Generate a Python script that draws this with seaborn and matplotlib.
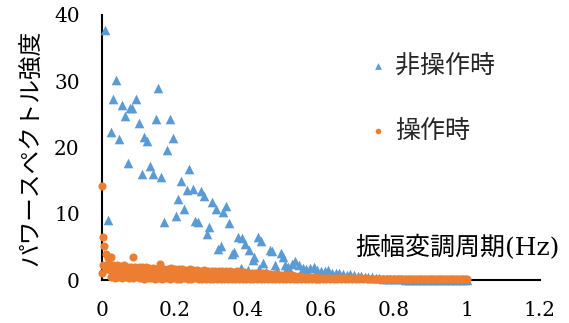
import numpy as np
import pandas as pd
import matplotlib
matplotlib.use("Agg")
import matplotlib.pyplot as plt
import seaborn as sns

# ---------------- data ----------------
series_names = ["非操作時", "操作時"]
x_ticks = [0, 0.2, 0.4, 0.6, 0.8, 1.0, 1.2]
x_tick_labels = ["0", "0.2", "0.4", "0.6", "0.8", "1", "1.2"]
y_ticks = [0, 10, 20, 30, 40]

blue_x_sparse = [0.007, 0.038, 0.154, 0.031, 0.093, 0.054, 0.076, 0.082, 0.062, 0.101,
                 0.148, 0.186, 0.024, 0.047, 0.115, 0.124, 0.195, 0.177, 0.070, 0.131,
                 0.109, 0.139, 0.162, 0.239, 0.216, 0.232, 0.248, 0.271, 0.279, 0.207,
                 0.302, 0.311, 0.339, 0.332, 0.226, 0.202, 0.171, 0.255, 0.262, 0.349,
                 0.294, 0.287, 0.016, 0.372, 0.383, 0.392, 0.427, 0.435, 0.326, 0.319,
                 0.404, 0.362, 0.355, 0.460, 0.467, 0.490, 0.417, 0.415, 0.442, 0.474,
                 0.495, 0.508, 0.380, 0.400, 0.430, 0.450, 0.480]
blue_y_sparse = [37.8, 30.2, 29.0, 27.3, 27.3, 26.4, 25.9, 25.9, 24.8, 23.7,
                 24.3, 24.3, 22.4, 21.3, 21.6, 21.0, 21.4, 19.6, 17.7, 17.2,
                 16.0, 16.0, 15.6, 16.7, 15.0, 13.6, 13.8, 13.5, 12.7, 12.3,
                 11.8, 10.7, 11.1, 10.2, 10.7, 9.6, 8.8, 8.9, 8.8, 8.6,
                 8.0, 6.9, 9.1, 6.5, 6.3, 5.5, 6.5, 5.9, 5.1, 4.7,
                 4.6, 4.3, 4.0, 4.5, 4.4, 4.1, 3.5, 3.0, 2.5, 2.3,
                 3.4, 1.8, 1.8, 1.5, 1.6, 1.2, 1.4]

blue_tail_x = np.round(np.arange(0.50, 1.0001, 0.01), 3)
blue_tail_y = [2.3, 1.9, 2.4, 2.8, 2.3, 1.8, 1.6, 1.8, 2.0, 1.5,
               1.3, 1.4, 1.5, 1.1, 1.0, 1.1, 0.9, 0.8, 0.9, 0.7,
               0.6, 0.6, 0.5, 0.45, 0.4, 0.3, 0.25, 0.2, 0.15, 0.12,
               0.1, 0.08, 0.08, 0.07, 0.07, 0.06, 0.06, 0.06, 0.05, 0.05,
               0.05, 0.05, 0.04, 0.04, 0.04, 0.04, 0.03, 0.03, 0.03, 0.03,
               0.03]

orange_special_x = [0.0, 0.003, 0.005, 0.010, 0.017, 0.025, 0.086, 0.158, 0.002, 0.0]
orange_special_y = [14.2, 6.5, 5.1, 4.0, 3.3, 3.4, 3.5, 2.4, 2.2, 1.0]

orange_hi_x = np.round(np.arange(0.02, 1.0001, 0.01), 3)
orange_hi_y = [2.5, 2.3, 2.2, 2.1, 2.2, 2.0, 2.0, 1.9, 2.0,
               1.9, 1.9, 1.8, 1.8, 1.7, 1.9, 1.7, 1.7, 1.8, 1.6,
               1.6, 1.6, 1.5, 1.6, 1.5, 1.5, 1.4, 1.5, 1.4, 1.4,
               1.4, 1.3, 1.4, 1.3, 1.3, 1.2, 1.3, 1.2, 1.2, 1.1,
               1.1, 1.1, 1.0, 1.0, 1.0, 0.9, 0.9, 0.9, 0.8, 0.8,
               0.7, 0.7, 0.6, 0.6, 0.5, 0.5, 0.45, 0.4, 0.4, 0.35,
               0.35, 0.3, 0.3, 0.3, 0.28, 0.27, 0.26, 0.25, 0.25, 0.24,
               0.23, 0.23, 0.22, 0.22, 0.22, 0.21, 0.21, 0.2, 0.21, 0.2,
               0.2, 0.2, 0.21, 0.2, 0.2, 0.2, 0.19, 0.2, 0.2, 0.19,
               0.2, 0.19, 0.2, 0.19, 0.19, 0.2, 0.19, 0.19, 0.2, 0.19]

orange_mid_x = np.round(np.arange(0.015, 0.5999, 0.01), 3)
orange_mid_y = [1.6, 1.4, 1.3, 1.2, 1.3, 1.1, 1.2, 1.0, 1.1,
                1.0, 1.1, 0.9, 1.0, 0.9, 1.0, 0.9, 0.8, 0.9, 0.8,
                0.9, 0.8, 0.8, 0.8, 0.7, 0.8, 0.7, 0.7, 0.7, 0.7,
                0.7, 0.6, 0.7, 0.6, 0.6, 0.6, 0.6, 0.5, 0.6, 0.5,
                0.5, 0.5, 0.5, 0.5, 0.4, 0.5, 0.4, 0.4, 0.4, 0.4,
                0.35, 0.35, 0.3, 0.3, 0.3, 0.25, 0.25, 0.25, 0.2, 0.2]

orange_lo_x = np.round(np.arange(0.025, 0.9999, 0.01), 3)
orange_lo_y = [0.4, 0.3, 0.5, 0.3, 0.4, 0.3, 0.3, 0.4,
               0.3, 0.2, 0.3, 0.3, 0.2, 0.3, 0.2, 0.3, 0.2, 0.3,
               0.2, 0.2, 0.3, 0.2, 0.2, 0.3, 0.2, 0.2, 0.2, 0.2,
               0.2, 0.15, 0.2, 0.2, 0.15, 0.2, 0.15, 0.2, 0.15, 0.15,
               0.15, 0.2, 0.15, 0.15, 0.15, 0.1, 0.15, 0.1, 0.15, 0.1,
               0.1, 0.1, 0.12, 0.1, 0.1, 0.1, 0.12, 0.1, 0.1, 0.1,
               0.1, 0.1, 0.1, 0.1, 0.12, 0.1, 0.12, 0.1, 0.1, 0.1,
               0.1, 0.12, 0.1, 0.1, 0.11, 0.1, 0.1, 0.12, 0.1, 0.1,
               0.1, 0.1, 0.11, 0.1, 0.1, 0.1, 0.12, 0.1, 0.1, 0.1,
               0.1, 0.1, 0.1, 0.11, 0.1, 0.1, 0.1, 0.1, 0.1, 0.1]

# ---------------- build table ----------------
bx = list(blue_x_sparse) + list(blue_tail_x)
by = list(blue_y_sparse) + list(blue_tail_y)
ox = list(orange_special_x) + list(orange_hi_x) + list(orange_mid_x) + list(orange_lo_x)
oy = list(orange_special_y) + list(orange_hi_y) + list(orange_mid_y) + list(orange_lo_y)
df = pd.DataFrame({
    "freq": bx + ox,
    "power": by + oy,
    "series": [series_names[0]] * len(bx) + [series_names[1]] * len(ox),
})

# ---------------- style ----------------
sns.set_theme(style="white")
plt.rcParams["font.family"] = ["DejaVu Serif", "Noto Sans CJK JP"]
plt.rcParams["axes.unicode_minus"] = False

fig = plt.figure(figsize=(5.69, 3.23), dpi=100)
ax = fig.add_axes([102 / 569, 1 - 280 / 323, 438 / 569, 265 / 323])

palette = {series_names[0]: "#5B9BD5", series_names[1]: "#ED7D31"}
markers = {series_names[0]: "^", series_names[1]: "o"}
sizes = {series_names[0]: 48, series_names[1]: 34}

for name in series_names:
    sub = df[df["series"] == name]
    sns.scatterplot(data=sub, x="freq", y="power", ax=ax, color=palette[name],
                    marker=markers[name], s=sizes[name], linewidth=0,
                    label=name, clip_on=False, zorder=3)

ax.set_xlim(0, 1.2)
ax.set_ylim(0, 40)
ax.set_xticks(x_ticks)
ax.set_xticklabels(x_tick_labels)
ax.set_yticks(y_ticks)
ax.tick_params(axis="both", length=0, labelsize=14.5, colors="#000000")
ax.tick_params(axis="x", pad=15)
ax.tick_params(axis="y", pad=16)

for s in ["top", "right"]:
    ax.spines[s].set_visible(False)
for s in ["left", "bottom"]:
    ax.spines[s].set_color("black")
    ax.spines[s].set_linewidth(1.5)

ax.set_ylabel("パワースペクトル強度", fontsize=17, color="#000000", va="center")
ax.yaxis.set_label_coords(-70 / 438, 0.5)
ax.set_xlabel("振幅変調周期(Hz)", fontsize=18, color="#000000", va="center")
ax.xaxis.set_label_coords((457 - 102) / 438, (280 - 248) / 265)

handles, labels = ax.get_legend_handles_labels()
leg = ax.legend(handles, labels, loc="upper left",
                bbox_to_anchor=(368 / 569, 1 - 54 / 323),
                bbox_transform=fig.transFigure, frameon=False,
                fontsize=18, labelspacing=1.7, handlelength=0.8,
                handletextpad=0.3, borderpad=0, borderaxespad=0,
                markerscale=0.7)

fig.savefig("out.png", dpi=100)
